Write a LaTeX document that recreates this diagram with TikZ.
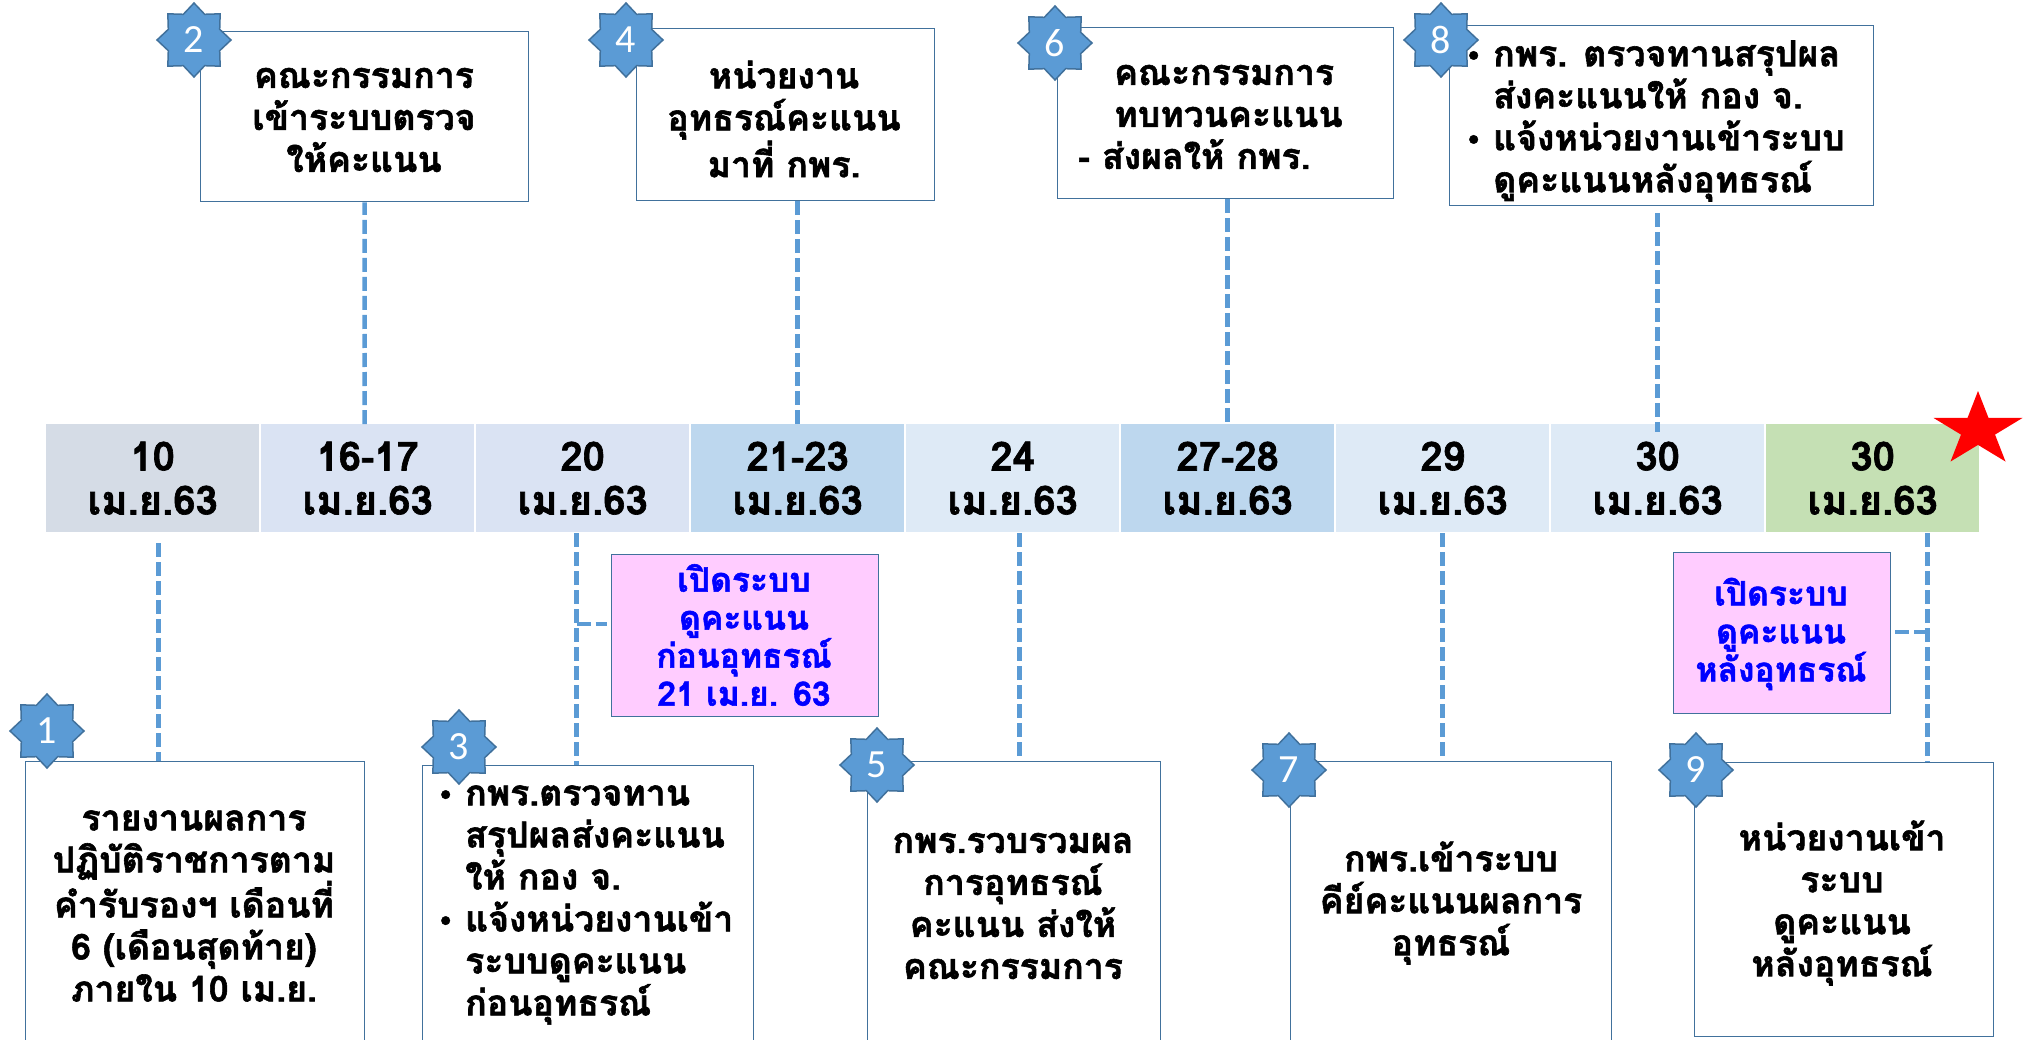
\documentclass[tikz,border=0pt]{standalone}
\usepackage{fontspec}
\setmainfont[Script=Thai,BoldFeatures={FakeBold=1.6}]{Loma}
\newfontfamily\numfont{Carlito}
\usetikzlibrary{shapes.geometric}
\definecolor{cgrey}{HTML}{D5DCE6}
\definecolor{cperi}{HTML}{DAE3F3}
\definecolor{cblue}{HTML}{BDD7EE}
\definecolor{clite}{HTML}{DEEAF6}
\definecolor{cgreen}{HTML}{C5E0B4}
\definecolor{cpink}{HTML}{FFCCFF}
\definecolor{cline}{HTML}{5B9BD5}
\definecolor{cedge}{HTML}{41719C}
\newcommand{\bul}{\makebox[25pt][l]{\raisebox{3pt}{\fontsize{24}{24}\selectfont •}}}
\newcommand{\ind}{\hspace*{25pt}}
\tikzset{
  x=1pt,y=-1pt,
  cell/.style={anchor=north west,minimum width=213pt,minimum height=108pt,inner sep=0pt,align=center,text=black,
    font=\bfseries\fontsize{40}{44}\selectfont},
  boxn/.style={draw=cedge,line width=1.3pt,fill=white,anchor=north west,inner sep=0pt},
  pinkn/.style={draw=cedge,line width=1.3pt,fill=cpink,anchor=north west,inner sep=0pt},
  txt/.style={align=center,inner sep=0pt,text=black,font=\bfseries\fontsize{35.6}{42}\selectfont},
  txtl/.style={txt,align=left},
  bluetxt/.style={align=center,inner sep=0pt,text=blue,font=\bfseries\fontsize{33.6}{38}\selectfont},
  conn/.style={draw=cline,line width=4.5pt,dash pattern=on 14pt off 5pt},
  badge/.style={star,star points=8,star point ratio=1.33,minimum size=74pt,inner sep=0pt,fill=cline,draw=cedge,line width=1.5pt,text=white,font=\numfont\fontsize{40}{40}\selectfont},
}
\newcommand{\mybox}[6]{\node[#1,minimum width=#4pt,minimum height=#5pt] (#6) at (#2,#3) {};}
\begin{document}
\begin{tikzpicture}
\path[use as bounding box,clip] (0,0) rectangle (2023,1040);
% cells
\node[cell,fill=cgrey]  (c1) at (46,424)   {10\\เม.ย.63};
\node[cell,fill=cperi]  (c2) at (261,424)  {16-17\\เม.ย.63};
\node[cell,fill=cperi]  (c3) at (476,424)  {20\\เม.ย.63};
\node[cell,fill=cblue]  (c4) at (691,424)  {21-23\\เม.ย.63};
\node[cell,fill=clite]  (c5) at (906,424)  {24\\เม.ย.63};
\node[cell,fill=cblue]  (c6) at (1121,424) {27-28\\เม.ย.63};
\node[cell,fill=clite]  (c7) at (1336,424) {29\\เม.ย.63};
\node[cell,fill=clite]  (c8) at (1551,424) {30\\เม.ย.63};
\node[cell,fill=cgreen] (c9) at (1766,424) {30\\เม.ย.63};
% boxes
\mybox{boxn}{200}{31}{328}{170}{b2}
\mybox{boxn}{636}{28}{298}{172}{b4}
\mybox{boxn}{1057}{27}{336}{171}{b6}
\mybox{boxn}{1449}{25}{424}{180}{b8}
\mybox{boxn}{25}{761}{339}{300}{b1}
\mybox{boxn}{422}{765}{331}{300}{b3}
\mybox{boxn}{867}{761}{293}{300}{b5}
\mybox{boxn}{1290}{761}{321}{300}{b7}
\mybox{boxn}{1694}{762}{299}{274}{b9}
\mybox{pinkn}{611}{554}{267}{162}{p1}
\mybox{pinkn}{1673}{552}{217}{161}{p2}
% connectors
\draw[conn] ([xshift=-3pt]c2.north) -- (b2.south);
\draw[conn] (b4.south -| c4.north) -- (c4.north);
\draw[conn] (b6.south -| c6.north) -- (c6.north);
\draw[conn] ([yshift=-7pt]b8.south -| c8.north) -- ([yshift=-8pt]c8.north);
\draw[conn] ([xshift=6pt,yshift=-11pt]c1.south) -- ([xshift=6pt]c1.south |- b1.north);
\draw[conn] ([xshift=-6pt,yshift=-1pt]c3.south) -- ([xshift=-6pt]c3.south |- b3.north);
\coordinate (j3) at ([xshift=-6pt]c3.south |- 0,624);
\draw[conn] (j3) -- ([xshift=-4pt]p1.west |- j3);
\draw[conn] ([xshift=7pt,yshift=-1pt]c5.south) -- ([xshift=7pt,yshift=4pt]c5.south |- b5.north);
\draw[conn] ([yshift=-1pt]c7.south) -- (c7.south |- b7.north);
\draw[conn] ([xshift=55pt,yshift=-1pt]c9.south) -- ([xshift=55pt]c9.south |- b9.north);
\coordinate (j9) at ([xshift=55pt]c9.south |- 0,632);
\draw[conn] (j9) -- ([xshift=0pt]p2.east |- j9);
% texts
\node[txt] (t2) at (364,120) {คณะกรรมการ\\เข้าระบบตรวจ\\ให้คะแนน};
\node[txt] (t4) at (784,119) {หน่วยงาน\\อุทธรณ์คะแนน\\มาที่ กพร.};
\node[txtl,anchor=west] (t6) at (1078,117) {\hspace*{36pt}คณะกรรมการ\\\hspace*{36pt}ทบทวนคะแนน\\- ส่งผลให้ กพร.};
\node[txtl,anchor=west] (t8) at (1468,121) {\bul กพร. ตรวจทานสรุปผล\\\ind ส่งคะแนนให้ กอง จ.\\\bul แจ้งหน่วยงานเข้าระบบ\\\ind ดูคะแนนหลังอุทธรณ์};
\node[txt] (t1) at (194,906) {รายงานผลการ\\ปฏิบัติราชการตาม\\คำรับรองฯ เดือนที่\\6 (เดือนสุดท้าย)\\ภายใน 10 เม.ย.};
\node[txtl,anchor=west] (t3) at (440,905) {\bul กพร.ตรวจทาน\\\ind สรุปผลส่งคะแนน\\\ind ให้ กอง จ.\\\bul แจ้งหน่วยงานเข้า\\\ind ระบบดูคะแนน\\\ind ก่อนอุทธรณ์};
\node[txt] (t5) at (1013,906) {กพร.รวบรวมผล\\การอุทธรณ์\\คะแนน ส่งให้\\คณะกรรมการ};
\node[txt] (t7) at (1451,903) {กพร.เข้าระบบ\\คีย์คะแนนผลการ\\อุทธรณ์};
\node[txt] (t9) at (1842,903) {หน่วยงานเข้า\\ระบบ\\ดูคะแนน\\หลังอุทธรณ์};
\node[bluetxt] (tp1) at (744,635) {เปิดระบบ\\ดูคะแนน\\ก่อนอุทธรณ์\\21 เม.ย. 63};
\node[bluetxt] (tp2) at (1781,634) {เปิดระบบ\\ดูคะแนน\\หลังอุทธรณ์};
% badges
\node[badge] (s1) at (47,731) {1};
\node[badge] (s2) at (194,40) {2};
\node[badge] (s3) at (459,747) {3};
\node[badge] (s4) at (626,40) {4};
\node[badge] (s5) at (877,765) {5};
\node[badge] (s6) at (1055,43) {6};
\node[badge] (s7) at (1289,770) {7};
\node[badge] (s8) at (1441,40) {8};
\node[badge] (s9) at (1696,770) {9};
% red star
\node[star,star points=5,star point ratio=2.618,minimum size=78pt,inner sep=0pt,fill=red,transform shape,xscale=1.2] (rs) at (1978,430) {};
\end{tikzpicture}
\end{document}
